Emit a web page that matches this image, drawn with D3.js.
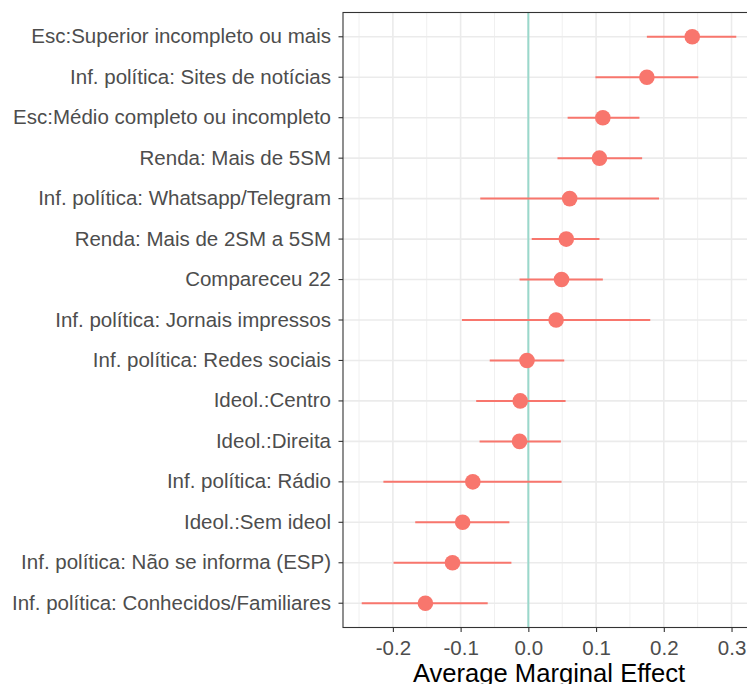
<!DOCTYPE html>
<html>
<head>
<meta charset="utf-8">
<script src="https://cdn.jsdelivr.net/npm/d3@7"></script>
<style>
  html, body { margin: 0; padding: 0; background: #fff; }
  svg { display: block; }
  text { font-family: "Liberation Sans", Arial, sans-serif; }
</style>
</head>
<body>
<svg id="chart" width="747" height="684"></svg>
<script>
// Terms, top to bottom
const terms = [
  "Esc:Superior incompleto ou mais",
  "Inf. política: Sites de notícias",
  "Esc:Médio completo ou incompleto",
  "Renda: Mais de 5SM",
  "Inf. política: Whatsapp/Telegram",
  "Renda: Mais de 2SM a 5SM",
  "Compareceu 22",
  "Inf. política: Jornais impressos",
  "Inf. política: Redes sociais",
  "Ideol.:Centro",
  "Ideol.:Direita",
  "Inf. política: Rádio",
  "Ideol.:Sem ideol",
  "Inf. política: Não se informa (ESP)",
  "Inf. política: Conhecidos/Familiares"
];
// Average marginal effects and 95% interval bounds
const ame   = [0.242, 0.175, 0.110, 0.105, 0.061, 0.056, 0.049, 0.041, -0.002, -0.012, -0.013, -0.082, -0.097, -0.112, -0.152];
const lower = [0.175, 0.099, 0.058, 0.043, -0.071, 0.005, -0.013, -0.098, -0.057, -0.077, -0.072, -0.214, -0.167, -0.199, -0.246];
const upper = [0.307, 0.251, 0.164, 0.168, 0.193, 0.105, 0.110, 0.180, 0.053, 0.055, 0.048, 0.049, -0.028, -0.025, -0.060];
const xTicks = [-0.2, -0.1, 0.0, 0.1, 0.2, 0.3];
const xMinor = [-0.25, -0.15, -0.05, 0.05, 0.15, 0.25];
const xTitle = "Average Marginal Effect";

const rows = terms.map((t, i) => ({ term: t, est: ame[i], lo: lower[i], hi: upper[i] }));

const svg = d3.select("#chart");
const panel = { left: 343, right: 755, top: 12.5, bottom: 627.5 };
const labelSize = 20.5, titleSize = 25.6;

// 5% expansion of the data range
const xmin = d3.min(lower), xmax = d3.max(upper);
const pad = (xmax - xmin) * 0.05;
const x = d3.scaleLinear().domain([xmin - pad, xmax + pad]).range([panel.left, panel.right]);

// discrete axis with 0.6 unit expansion
const n = terms.length;
const yIdx = d3.scaleLinear().domain([-0.6, n - 1 + 0.6]).range([panel.top, panel.bottom]);
const y = t => yIdx(terms.indexOf(t));

const g = svg.append("g");

// panel background
g.append("rect")
  .attr("x", panel.left).attr("y", panel.top)
  .attr("width", panel.right - panel.left).attr("height", panel.bottom - panel.top)
  .attr("fill", "#fff");

// minor grid
g.selectAll(".minor").data(xMinor).join("line")
  .attr("x1", d => x(d)).attr("x2", d => x(d))
  .attr("y1", panel.top).attr("y2", panel.bottom)
  .attr("stroke", "#F0F0F0").attr("stroke-width", 1);

// major grid
g.selectAll(".majx").data(xTicks).join("line")
  .attr("x1", d => x(d)).attr("x2", d => x(d))
  .attr("y1", panel.top).attr("y2", panel.bottom)
  .attr("stroke", "#EBEBEB").attr("stroke-width", 1.6);
g.selectAll(".majy").data(terms).join("line")
  .attr("x1", panel.left).attr("x2", panel.right)
  .attr("y1", d => y(d)).attr("y2", d => y(d))
  .attr("stroke", "#EBEBEB").attr("stroke-width", 1.6);

// reference line at zero
g.append("line")
  .attr("x1", x(0)).attr("x2", x(0))
  .attr("y1", panel.top).attr("y2", panel.bottom)
  .attr("stroke", "#9AD8CB").attr("stroke-width", 2);

// intervals
g.selectAll(".ci").data(rows).join("line")
  .attr("x1", d => x(d.lo)).attr("x2", d => x(d.hi))
  .attr("y1", d => y(d.term)).attr("y2", d => y(d.term))
  .attr("stroke", "#F8766D").attr("stroke-width", 2);

// estimates
g.selectAll(".pt").data(rows).join("circle")
  .attr("cx", d => x(d.est)).attr("cy", d => y(d.term))
  .attr("r", 7.8).attr("fill", "#F8766D");

// panel border
g.append("rect")
  .attr("x", panel.left).attr("y", panel.top)
  .attr("width", panel.right - panel.left).attr("height", panel.bottom - panel.top)
  .attr("fill", "none").attr("stroke", "#333333").attr("stroke-width", 1.1);

// axes
const xAxis = d3.axisBottom(x).tickValues(xTicks).tickFormat(d3.format(".1f"))
  .tickSizeInner(4.5).tickSizeOuter(0).tickPadding(8);
const ya = d3.scaleBand().domain(terms).range([yIdx(-0.5), yIdx(n - 0.5)]);
const yAxis = d3.axisLeft(ya).tickSizeInner(4.5).tickSizeOuter(0).tickPadding(7.5);

const gx = svg.append("g").attr("transform", `translate(0,${panel.bottom})`).call(xAxis);
gx.select(".domain").remove();
gx.selectAll(".tick line").attr("stroke", "#333333").attr("stroke-width", 1.1);
gx.selectAll(".tick text")
  .attr("fill", "#4D4D4D").attr("font-size", labelSize)
  .attr("font-family", "Liberation Sans, Arial, sans-serif")
  .text(d => d3.format(".1f")(d).replace("\u2212", "-"));

const gy = svg.append("g").attr("transform", `translate(${panel.left},0)`).call(yAxis);
gy.select(".domain").remove();
gy.selectAll(".tick line").attr("stroke", "#333333").attr("stroke-width", 1.1);
gy.selectAll(".tick text")
  .attr("fill", "#4D4D4D").attr("font-size", labelSize)
  .attr("font-family", "Liberation Sans, Arial, sans-serif");

// x axis title
svg.append("text")
  .attr("x", (panel.left + panel.right) / 2).attr("y", 681.5)
  .attr("text-anchor", "middle")
  .attr("font-size", titleSize).attr("fill", "#000")
  .text(xTitle);
</script>
</body>
</html>
